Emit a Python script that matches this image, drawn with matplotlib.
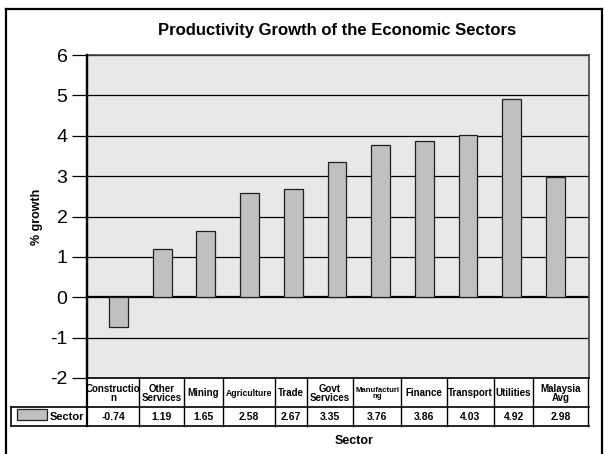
import matplotlib
matplotlib.use("Agg")
import matplotlib.pyplot as plt
from matplotlib.patches import Rectangle
from matplotlib.lines import Line2D

plt.rcParams['font.family'] = ['Liberation Sans', 'DejaVu Sans']

# data
sectors = ["Constructio\nn", "Other\nServices", "Mining", "Agriculture", "Trade",
           "Govt\nServices", "Manufacturi\nng", "Finance", "Transport", "Utilities",
           "Malaysia\nAvg"]
growth = [-0.74, 1.19, 1.65, 2.58, 2.67, 3.35, 3.76, 3.86, 4.03, 4.92, 2.98]
value_labels = ["-0.74", "1.19", "1.65", "2.58", "2.67", "3.35", "3.76", "3.86",
                "4.03", "4.92", "2.98"]
header_sizes = [7, 7, 7, 6.2, 7, 7, 5.6, 7, 7, 7, 7]
yticks = [-2, -1, 0, 1, 2, 3, 4, 5, 6]

W, H = 604, 454
fig = plt.figure(figsize=(W / 100, H / 100), dpi=100)

def fx(px):
    return px / W

def fy(py):
    return 1 - py / H

L, R, T, B = 87, 589, 55, 378
ax = fig.add_axes([fx(L), fy(B), fx(R) - fx(L), fy(T) - fy(B)])
ax.set_facecolor("#e8e8e8")

x = list(range(len(growth)))
ax.bar(x, growth, width=0.43, color="#c0c0c0", edgecolor="#202020", linewidth=0.9, zorder=3)
ax.set_xlim(-0.72, 10.77)
ax.set_ylim(-2, 6)
ax.set_yticks(yticks)
ax.set_yticklabels([str(v) for v in yticks], fontsize=14)
for v in yticks:
    ax.axhline(v, color="black", linewidth=0.9 if v != 0 else 1.6, zorder=2)
ax.set_xticks([])
ax.tick_params(axis="y", length=11, width=0.9, pad=3)
for s in ["top", "right"]:
    ax.spines[s].set_color("#444444")
    ax.spines[s].set_linewidth(1.2)
ax.spines["bottom"].set_visible(False)
ax.spines["left"].set_linewidth(1.6)

ax.set_ylabel("% growth", fontsize=9, fontweight="bold", labelpad=5)

fig.text(fx(337), fy(30), "Productivity Growth of the Economic Sectors",
         fontsize=12, fontweight="bold", ha="center", va="center")

# data table below the plot
col_edges = [87, 139, 184, 223, 275, 307, 353, 401, 447, 494, 533, 588]
r0, r1, r2 = 378, 407, 426

def hline(x0, x1, y, lw=1.0, color="black"):
    fig.add_artist(Line2D([fx(x0), fx(x1)], [fy(y), fy(y)], color=color, lw=lw))

def vline(xp, y0, y1, lw=1.0, color="black"):
    fig.add_artist(Line2D([fx(xp), fx(xp)], [fy(y0), fy(y1)], color=color, lw=lw))

hline(87, 589, r0, lw=1.2)
hline(11, 589, r1, lw=1.2)
hline(11, 589, r2, lw=1.2)
vline(87, T, r2, lw=1.6)
vline(11, r1, r2, lw=1.2)
for e in col_edges[1:]:
    vline(e, r0, r2, lw=1.0)

for i, name in enumerate(sectors):
    cx = (col_edges[i] + col_edges[i + 1]) / 2
    fig.text(fx(cx), fy((r0 + r1) / 2 + 1), name, fontsize=header_sizes[i],
             fontweight="bold", ha="center", va="center", linespacing=0.8)
    fig.text(fx(cx), fy((r1 + r2) / 2 + 1), value_labels[i], fontsize=7.5,
             fontweight="bold", ha="center", va="center")

# legend key in the table
fig.add_artist(Rectangle((fx(17), fy(420)), fx(47) - fx(17), fy(409) - fy(420),
                         facecolor="#c0c0c0", edgecolor="#202020", lw=0.9))
fig.text(fx(84), fy(417), "Sector", fontsize=8, fontweight="bold", ha="right", va="center")

fig.text(fx(354), fy(441), "Sector", fontsize=9, fontweight="bold", ha="center", va="center")

# outer frame
for seg in [([6, 6], [9, 460]), ([6, 601.5], [9, 9]), ([601.5, 601.5], [9, 460])]:
    fig.add_artist(Line2D([fx(v) for v in seg[0]], [fy(v) for v in seg[1]],
                          color="black", lw=1.6))

fig.savefig("out.png", dpi=100)
